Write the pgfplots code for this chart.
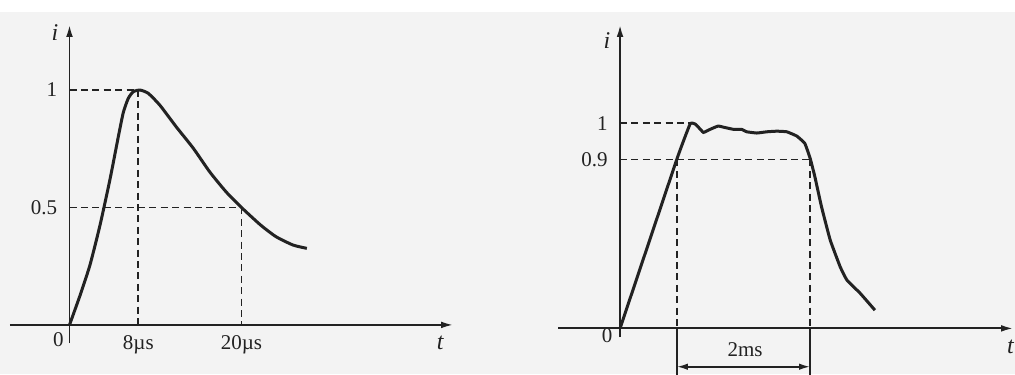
\documentclass[border=0pt]{standalone}
\usepackage{pgfplots}
\pgfplotsset{compat=1.18}
\usepackage{fontspec}
\setmainfont{Liberation Serif}
\usetikzlibrary{arrows.meta}
\definecolor{ink}{HTML}{222222}
\definecolor{paper}{HTML}{F3F3F3}
\begin{document}
\begin{tikzpicture}
\useasboundingbox (0pt,0pt) rectangle (507.5pt,187pt);
\fill[paper] (0pt,0pt) rectangle (507.5pt,181pt);
\pgfplotsset{
  wave/.style={
    scale only axis, axis lines=middle, clip=false,
    anchor=south west,
    axis line style={ink, line width=0.9pt, -{Latex[length=6pt,width=3.4pt]}},
    major tick length=0pt,
    tick label style={font=\fontsize{10.5}{12}\selectfont, text=ink},
    xticklabel style={anchor=base, yshift=-12.5pt},
    yticklabel style={anchor=east, xshift=-6pt, inner sep=0pt},
    every axis plot/.append style={ink},
  },
  guide/.style={ink, line width=0.9pt, dash pattern=on 3.5pt off 2.2pt, mark=none},
  curve/.style={ink, line width=1.5pt, mark=none, smooth, tension=0.35},
}
% ---------------- left: 8/20 us impulse
\begin{axis}[wave,
  at={(5pt,15.5pt)}, width=221.5pt, height=159pt,
  xmin=-6.92, xmax=44.6, ymin=-0.077, ymax=1.277,
  xtick={8,20}, xticklabels={8µs,20µs},
  ytick={0.5,1}, yticklabels={0.5\hspace{4pt},1},
]
\addplot[guide] coordinates {(0,1) (8,1)};
\addplot[guide] coordinates {(8,1) (8,0)};
\addplot[guide] coordinates {(0,0.5) (20,0.5)};
\addplot[guide] coordinates {(20,0.5) (20,0)};
\addplot[curve] coordinates {
(0,0) (1.22,0.125) (2.38,0.255) (3.55,0.425) (4.71,0.62) (5.67,0.80)
(6.26,0.905) (6.84,0.965) (7.42,0.993) (8.2,1.0) (9.16,0.986) (10.5,0.936)
(12.4,0.844) (14.4,0.752) (16.3,0.652) (18.2,0.567) (20.0,0.5) (22.2,0.426)
(24.0,0.376) (26.0,0.34) (27.6,0.326)};
\node[text=ink, font=\fontsize{10.5}{12}\selectfont] at (axis cs:-1.3,-0.064) {0};
\node[text=ink, font=\fontsize{12}{13}\selectfont\itshape] at (axis cs:-1.69,1.243) {i};
\node[text=ink, font=\fontsize{12}{13}\selectfont\itshape] at (axis cs:43.1,-0.077) {t};
\end{axis}
% ---------------- right: 2 ms square wave
\begin{axis}[wave,
  at={(279pt,18.5pt)}, width=227.5pt, height=156pt,
  xmin=-0.93, xmax=5.89, ymin=-0.042, ymax=1.48,
  xtick=\empty,
  ytick={0.824,1}, yticklabels={0.9,1},
]
\addplot[guide] coordinates {(0,1) (1.08,1)};
\addplot[guide] coordinates {(0,0.824) (2.85,0.824)};
\addplot[guide] coordinates {(0.85,0.824) (0.85,0)};
\addplot[guide] coordinates {(2.85,0.824) (2.85,0)};
\addplot[ink, line width=0.9pt, mark=none] coordinates {(0.85,0) (0.85,-0.24)};
\addplot[ink, line width=0.9pt, mark=none] coordinates {(2.85,0) (2.85,-0.24)};
\addplot[ink, line width=0.9pt, mark=none, {Latex[length=5.5pt,width=3.2pt]}-{Latex[length=5.5pt,width=3.2pt]}]
  coordinates {(0.85,-0.187) (2.85,-0.187)};
\addplot[curve, tension=0.2] coordinates {
(0,0) (0.85,0.824) (1.05,0.997) (1.125,0.997) (1.17,0.983) (1.25,0.956)
(1.35,0.971) (1.47,0.987) (1.57,0.98) (1.70,0.971) (1.82,0.971) (1.90,0.959)
(2.05,0.953) (2.20,0.959) (2.35,0.962) (2.50,0.959) (2.65,0.938) (2.77,0.902)
(2.85,0.829) (2.92,0.740) (3.02,0.593) (3.15,0.431) (3.30,0.30) (3.40,0.236)
(3.60,0.171) (3.82,0.089)};
\node[text=ink, font=\fontsize{10.5}{12}\selectfont] at (axis cs:-0.195,-0.035) {0};
\node[text=ink, font=\fontsize{10.5}{12}\selectfont] at (axis cs:1.875,-0.106) {2ms};
\node[text=ink, font=\fontsize{12}{13}\selectfont\itshape] at (axis cs:-0.195,1.406) {i};
\node[text=ink, font=\fontsize{12}{13}\selectfont\itshape] at (axis cs:5.85,-0.091) {t};
\end{axis}
\end{tikzpicture}
\end{document}
